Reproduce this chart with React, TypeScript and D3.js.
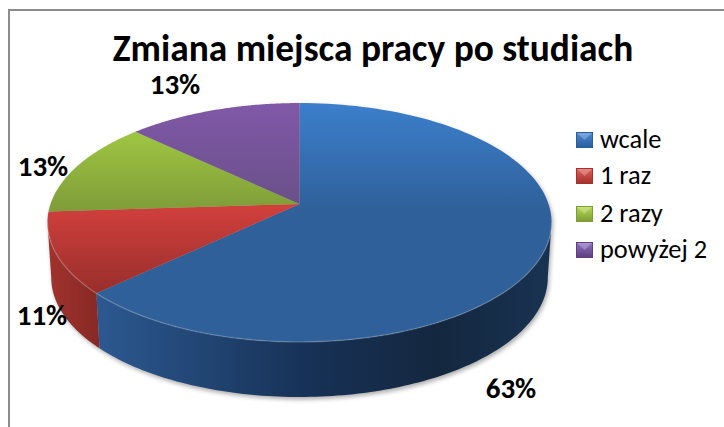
import React from "react";
import * as d3 from "d3";

const title = "Zmiana miejsca pracy po studiach";
const categories = ["wcale", "1 raz", "2 razy", "powyżej 2"];
const values = [63, 11, 13, 13];
const labels = ["63%", "11%", "13%", "13%"];
const topColors = [["#3c7fcc", "#2f6099"], ["#d2403d", "#982e2b"], ["#9fc642", "#7f9c39"], ["#8058a8", "#6a5089"]];
const sideColors = [["#2b568f", "#13294a"], ["#a0322d", "#842824"], ["#7a9436", "#6a8230"], ["#5f4a80", "#524070"]];
const swatch = [["#4a8ad4", "#2c5c9a"], ["#e0605c", "#a5302c"], ["#b4d850", "#7f9c38"], ["#9070c0", "#5c4080"]];
const labelPos = [[511, 398], [42, 325], [43, 176], [175, 94]];
const legendTop = [132, 168, 206, 242];

const W = 724, H = 427;
const cx = 299.5, apexY = 204, a = 249, b = 116.6, k = 0.155, depth = 55, shrink = 0.985;
const silhouette = Math.acos(-k);

const project = (t: number): [number, number] => {
  const u = Math.sin(t), v = -Math.cos(t), d = 1 - k * v;
  return [cx + (a * u) / d, apexY + (b * v) / d];
};
const lower = ([x, y]: [number, number]): [number, number] => [cx + (x - cx) * shrink, y + depth];

const pieGen = d3.pie<number>().sort(null).startAngle(0).endAngle(2 * Math.PI);
const arcs = pieGen(values);
const line = d3.line();

const sLo = silhouette, sHi = 2 * Math.PI - silhouette;
const sample = (s: number, e: number) => d3.range(0, 121).map((i) => project(s + ((e - s) * i) / 120));
const topPath = (s: number, e: number) => line([[cx, apexY], ...sample(s, e)]) + "Z";
const sidePath = (s: number, e: number) => {
  const lo = Math.max(s, sLo), hi = Math.min(e, sHi);
  if (hi <= lo) return null;
  const pts = sample(lo, hi);
  return line([...pts, ...pts.map(lower).reverse()]) + "Z";
};
const frontEdge = line(sample(sLo, sHi));
const outline = line([...sample(sLo, sHi).map(lower), ...sample(sHi, sLo + 2 * Math.PI)]) + "Z";

const font = "Carlito, Calibri, 'Open Sans', 'Noto Sans', sans-serif";

export default function App() {
  return (
    <svg width={W} height={H} viewBox={`0 0 ${W} ${H}`} style={{ position: "absolute", left: 0, top: 0, display: "block" }}>
      <defs>
        {topColors.map((c, i) => (
          <linearGradient key={i} id={`top${i}`} x1="0" y1="0" x2="0" y2="1">
            <stop offset="0" stopColor={c[0]} />
            <stop offset={i === 0 ? 0.45 : 1} stopColor={c[1]} />
            <stop offset="1" stopColor={c[1]} />
          </linearGradient>
        ))}
        <linearGradient id="side0" gradientUnits="userSpaceOnUse" x1="100" y1="0" x2="552" y2="0">
          <stop offset="0" stopColor="#2c5890" />
          <stop offset="0.45" stopColor="#173257" />
          <stop offset="0.75" stopColor="#14273f" />
          <stop offset="1" stopColor="#183352" />
        </linearGradient>
        {[1, 2, 3].map((i) => (
          <linearGradient key={i} id={`side${i}`} gradientUnits="userSpaceOnUse" x1="50" y1="0" x2="104" y2="0">
            <stop offset="0" stopColor={sideColors[i][0]} />
            <stop offset="1" stopColor={sideColors[i][1]} />
          </linearGradient>
        ))}
        {swatch.map((c, i) => (
          <linearGradient key={i} id={`sw${i}`} x1="0" y1="0" x2="0" y2="1">
            <stop offset="0" stopColor={c[0]} />
            <stop offset="1" stopColor={c[1]} />
          </linearGradient>
        ))}
        <filter id="shadow" x="-5%" y="-5%" width="110%" height="110%">
          <feGaussianBlur stdDeviation="2.2" />
        </filter>
      </defs>
      <rect x={0} y={0} width={W} height={H} fill="#fff" />
      <path d={`M9 ${H}V10H${W}`} fill="none" stroke="#8c8c8c" strokeWidth={2} />

      <path d={outline} fill="#777" opacity={0.6} transform="translate(1.5,2.5)" filter="url(#shadow)" />
      {arcs.map((d, i) => {
        const p = sidePath(d.startAngle, d.endAngle);
        return p ? <path key={i} d={p} fill={`url(#side${i})`} /> : null;
      })}
      {arcs.map((d, i) => (
        <path key={i} d={topPath(d.startAngle, d.endAngle)} fill={`url(#top${i})`} />
      ))}
      <path d={frontEdge ?? ""} fill="none" stroke="#ffffff" strokeOpacity={0.18} strokeWidth={1.5} />

      <text x={373} y={61} textAnchor="middle" fontFamily={font} fontSize={37.4} fontWeight={700} fill="#000">{title}</text>
      {labels.map((t, i) => (
        <text key={i} x={labelPos[i][0]} y={labelPos[i][1]} textAnchor="middle" fontFamily={font} fontSize={29} fontWeight={700} fill="#000">{t}</text>
      ))}
      {categories.map((c, i) => (
        <g key={c}>
          <rect x={576.5} y={legendTop[i] + 0.5} width={16} height={15} fill={`url(#sw${i})`} stroke={swatch[i][1]} />
          <path d={`M577 ${legendTop[i] + 1}L584.5 ${legendTop[i] + 8}L592 ${legendTop[i] + 1}Z`} fill="#fff" opacity={0.25} />
          <text x={600} y={legendTop[i] + 16} fontFamily={font} fontSize={26.4} fill="#000">{c}</text>
        </g>
      ))}
    </svg>
  );
}
